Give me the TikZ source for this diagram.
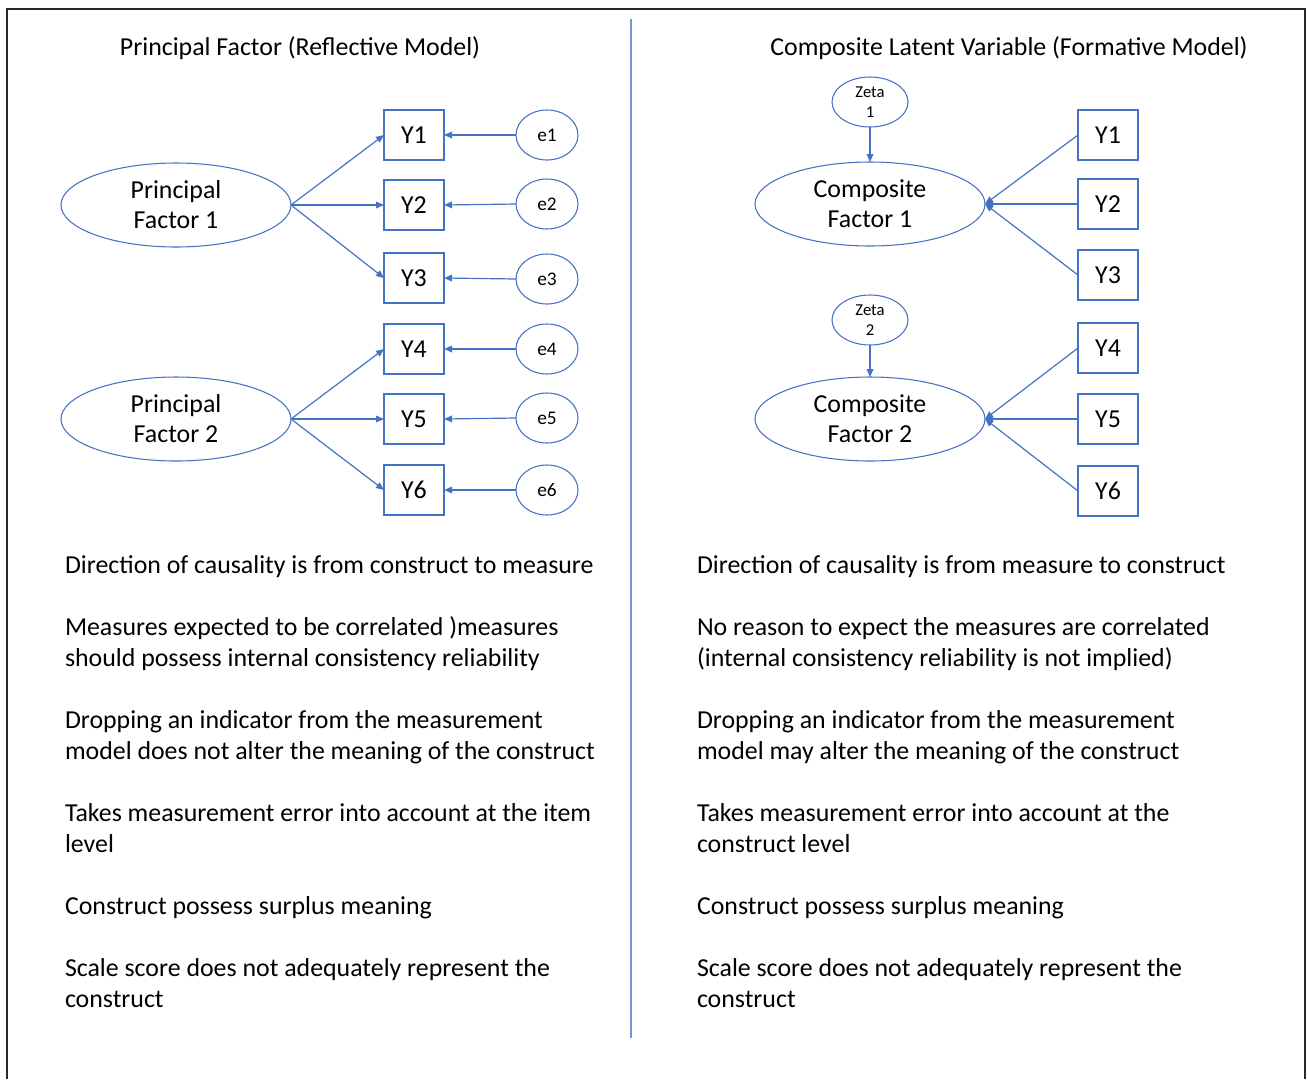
\documentclass[tikz,border=0pt]{standalone}
\usepackage{fontspec}
\setmainfont{Carlito}
\usetikzlibrary{arrows.meta,shapes.geometric}
\definecolor{ofblue}{HTML}{4472C4}
\definecolor{divblue}{HTML}{6A98DF}

\begin{document}
\begin{tikzpicture}[x=0.75pt,y=-0.75pt,
  every node/.style={inner sep=0pt, outer sep=0pt},
  latent/.style={draw=ofblue, line width=0.8pt, ellipse, minimum width=172.5pt,
    minimum height=63pt, align=center, font=\fontsize{19.4}{22.5}\selectfont},
  errnode/.style={draw=ofblue, line width=0.8pt, ellipse, minimum width=46.5pt,
    minimum height=37.5pt, font=\fontsize{14.5}{17}\selectfont},
  zetanode/.style={draw=ofblue, line width=0.8pt, ellipse, minimum width=57pt,
    minimum height=37.5pt, align=center, font=\fontsize{12.5}{15}\selectfont},
  item/.style={draw=ofblue, line width=0.8pt, rectangle, minimum width=45pt,
    minimum height=37.5pt, font=\fontsize{19.4}{23}\selectfont},
  link/.style={draw=ofblue, line width=0.9pt, -{Triangle[length=6pt,width=5pt]}},
  heading/.style={anchor=base, font=\fontsize{19.4}{23}\selectfont},
  bodytext/.style={anchor=base west, font=\fontsize{19.4}{23.25}\selectfont},
]
\useasboundingbox (0,0) rectangle (1308,1079);

% frame and divider
\draw[line width=1.5pt, black!85] (7,1079) -- (7,9) -- (1305,9) -- (1305,1079);
\draw[divblue, line width=1.2pt] (631,19) -- (631,1038);

% headings
\node[heading] (tl) at (300,55) {Principal Factor (Reflective Model)};
\node[heading] (tr) at (1009,55) {Composite Latent Variable (Formative Model)};

% ---- reflective model ----
\node[latent] (pf1) at (176,205) {Principal\\Factor 1};
\node[latent] (pf2) at (176,419) {Principal\\Factor 2};

\node[item] (ly1) at (414,135) {Y1};
\node[item] (ly2) at (414,205) {Y2};
\node[item] (ly3) at (414,278) {Y3};
\node[item] (ly4) at (414,349) {Y4};
\node[item] (ly5) at (414,419) {Y5};
\node[item] (ly6) at (414,490) {Y6};

\node[errnode] (e1) at (547,135) {e1};
\node[errnode] (e2) at (547,204) {e2};
\node[errnode] (e3) at (547,279) {e3};
\node[errnode] (e4) at (547,349) {e4};
\node[errnode] (e5) at (547,418) {e5};
\node[errnode] (e6) at (547,490) {e6};

\foreach \k in {1,2,3} \draw[link] (pf1.east) -- (ly\k.west);
\foreach \k in {4,5,6} \draw[link] (pf2.east) -- (ly\k.west);
\foreach \k in {1,...,6} \draw[link] (e\k.west) -- (ly\k.east);

% ---- formative model ----
\node[zetanode] (z1) at (870,102) {Zeta\\1};
\node[zetanode] (z2) at (870,320) {Zeta\\2};
\node[latent] (cf1) at (870,204) {Composite\\Factor 1};
\node[latent] (cf2) at (870,419) {Composite\\Factor 2};

\node[item] (ry1) at (1108,135) {Y1};
\node[item] (ry2) at (1108,204) {Y2};
\node[item] (ry3) at (1108,275) {Y3};
\node[item] (ry4) at (1108,348) {Y4};
\node[item] (ry5) at (1108,419) {Y5};
\node[item] (ry6) at (1108,491) {Y6};

\draw[link] (z1.south) -- (cf1.north);
\draw[link] (z2.south) -- (cf2.north);
\foreach \k in {1,2,3} \draw[link] (ry\k.west) -- (cf1.east);
\foreach \k in {4,5,6} \draw[link] (ry\k.west) -- (cf2.east);

% ---- comparison text, reflective ----
\node[bodytext] (la1) at (65,573) {Direction of causality is from construct to measure};
\node[bodytext] (lb1) at (65,635) {Measures expected to be correlated )measures};
\node[bodytext] (lb2) at (65,666) {should possess internal consistency reliability};
\node[bodytext] (lc1) at (65,728) {Dropping an indicator from the measurement};
\node[bodytext] (lc2) at (65,759) {model does not alter the meaning of the construct};
\node[bodytext] (ld1) at (65,821) {Takes measurement error into account at the item};
\node[bodytext] (ld2) at (65,852) {level};
\node[bodytext] (le1) at (65,914) {Construct possess surplus meaning};
\node[bodytext] (lf1) at (65,976) {Scale score does not adequately represent the};
\node[bodytext] (lf2) at (65,1007) {construct};

% ---- comparison text, formative ----
\node[bodytext] (ra1) at (697,573) {Direction of causality is from measure to construct};
\node[bodytext] (rb1) at (697,635) {No reason to expect the measures are correlated};
\node[bodytext] (rb2) at (697,666) {(internal consistency reliability is not implied)};
\node[bodytext] (rc1) at (697,728) {Dropping an indicator from the measurement};
\node[bodytext] (rc2) at (697,759) {model may alter the meaning of the construct};
\node[bodytext] (rd1) at (697,821) {Takes measurement error into account at the};
\node[bodytext] (rd2) at (697,852) {construct level};
\node[bodytext] (re1) at (697,914) {Construct possess surplus meaning};
\node[bodytext] (rf1) at (697,976) {Scale score does not adequately represent the};
\node[bodytext] (rf2) at (697,1007) {construct};
\end{tikzpicture}
\end{document}
